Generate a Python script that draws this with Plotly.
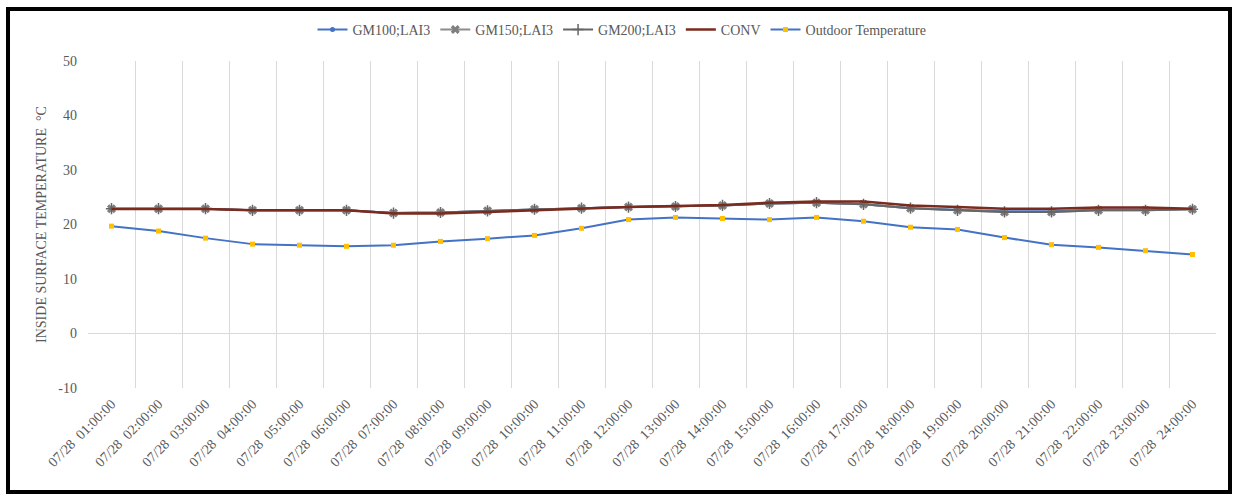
import plotly.graph_objects as go

# Hourly timestamps on 28 July
hours = [f"07/28  {h:02d}:00:00" for h in range(1, 25)]

gm100_lai3 = [22.9, 22.9, 22.9, 22.6, 22.6, 22.6, 22.1, 22.2, 22.5, 22.8, 23.0, 23.2,
              23.3, 23.5, 23.85, 24.0, 23.7, 23.0, 22.7, 22.45, 22.45, 22.75, 22.75, 22.85]
gm150_lai3 = [22.9, 22.9, 22.9, 22.6, 22.6, 22.6, 22.1, 22.2, 22.5, 22.8, 23.0, 23.2,
              23.3, 23.5, 23.85, 24.0, 23.7, 23.0, 22.6, 22.3, 22.3, 22.6, 22.6, 22.8]
gm200_lai3 = [22.9, 22.9, 22.9, 22.6, 22.6, 22.6, 22.1, 22.2, 22.5, 22.8, 23.0, 23.2,
              23.3, 23.5, 23.85, 24.0, 23.7, 23.0, 22.6, 22.3, 22.3, 22.6, 22.6, 22.8]
conv = [22.85, 22.85, 22.85, 22.6, 22.6, 22.6, 22.0, 22.0, 22.3, 22.6, 23.0, 23.2,
        23.4, 23.6, 24.0, 24.2, 24.2, 23.5, 23.2, 22.9, 22.9, 23.1, 23.1, 22.9]
outdoor = [19.7, 18.8, 17.5, 16.4, 16.2, 16.0, 16.2, 16.9, 17.4, 18.0, 19.3, 20.9,
           21.3, 21.1, 20.9, 21.3, 20.6, 19.5, 19.1, 17.6, 16.3, 15.8, 15.2, 14.5]

y_ticks = [-10, 0, 10, 20, 30, 40, 50]
y_ticktext = ["-10", "0", "10", "20", "30", "40", "50"]

xpos = list(range(len(hours)))
FONT = "Liberation Serif"
GREY_TXT = "#595959"
GRID = "#d9d9d9"

fig = go.Figure()
fig.add_trace(go.Scatter(
    x=xpos, y=gm100_lai3, name="GM100;LAI3", mode="lines+markers",
    line=dict(color="#4472C4", width=2),
    marker=dict(symbol="circle", size=5, color="#4472C4")))
fig.add_trace(go.Scatter(
    x=xpos, y=gm150_lai3, name="GM150;LAI3", mode="lines+markers",
    line=dict(color="#8C8C8C", width=2),
    marker=dict(symbol="x", size=8, color="#7F7F7F",
                line=dict(width=0))))
fig.add_trace(go.Scatter(
    x=xpos, y=gm200_lai3, name="GM200;LAI3", mode="lines+markers",
    line=dict(color="#666666", width=2),
    marker=dict(symbol="cross-thin-open", size=8,
                line=dict(color="#8FAADC", width=1.5))))
fig.add_trace(go.Scatter(
    x=xpos, y=conv, name="CONV", mode="lines",
    line=dict(color="#7B2A1E", width=2.5)))
fig.add_trace(go.Scatter(
    x=xpos, y=outdoor, name="Outdoor Temperature", mode="lines+markers",
    line=dict(color="#4472C4", width=2),
    marker=dict(symbol="square", size=5, color="#FFC000")))

W, H = 1233, 496
ML, MR, MT, MB = 88, 17, 61, 108
pw, ph = W - ML - MR, H - MT - MB


def px_x(x):
    return (x - ML) / pw


def px_y(y):
    return (H - MB - y) / ph


fig.update_layout(
    width=W, height=H,
    margin=dict(l=ML, r=MR, t=MT, b=MB, pad=0),
    paper_bgcolor="white", plot_bgcolor="white",
    font=dict(family=FONT, size=14, color=GREY_TXT),
    showlegend=True,
    legend=dict(orientation="h", x=px_x(622), xanchor="center",
                y=px_y(30), yanchor="middle",
                font=dict(family=FONT, size=14, color=GREY_TXT),
                itemwidth=30, tracegroupgap=0, bgcolor="rgba(0,0,0,0)"),
    xaxis=dict(
        range=[-0.5, len(hours) - 0.5], tickmode="array", tickvals=xpos,
        ticktext=hours, tickangle=-45, showgrid=False, zeroline=False,
        showline=False, ticks="", ticklabelstandoff=4,
        tickfont=dict(family=FONT, size=14, color=GREY_TXT),
        minor=dict(tickmode="array",
                   tickvals=[i - 0.5 for i in range(len(hours) + 1)],
                   showgrid=True, gridcolor=GRID, gridwidth=1, ticks=""),
        fixedrange=True),
    yaxis=dict(
        range=[-10, 50], tickmode="array", tickvals=y_ticks,
        ticktext=y_ticktext,
        showgrid=False, zeroline=True, zerolinecolor=GRID, zerolinewidth=1,
        showline=False, ticks="", ticklabelstandoff=10,
        tickfont=dict(family=FONT, size=14, color=GREY_TXT),
        title=dict(text="INSIDE SURFACE TEMPERATURE  °C", standoff=8,
                   font=dict(family=FONT, size=14, color=GREY_TXT)),
        fixedrange=True),
    shapes=[dict(type="rect", xref="paper", yref="paper",
                 x0=px_x(8), x1=px_x(1230), y0=px_y(492), y1=px_y(9),
                 line=dict(color="black", width=4), layer="above")],
)

fig.write_html("out.html")
